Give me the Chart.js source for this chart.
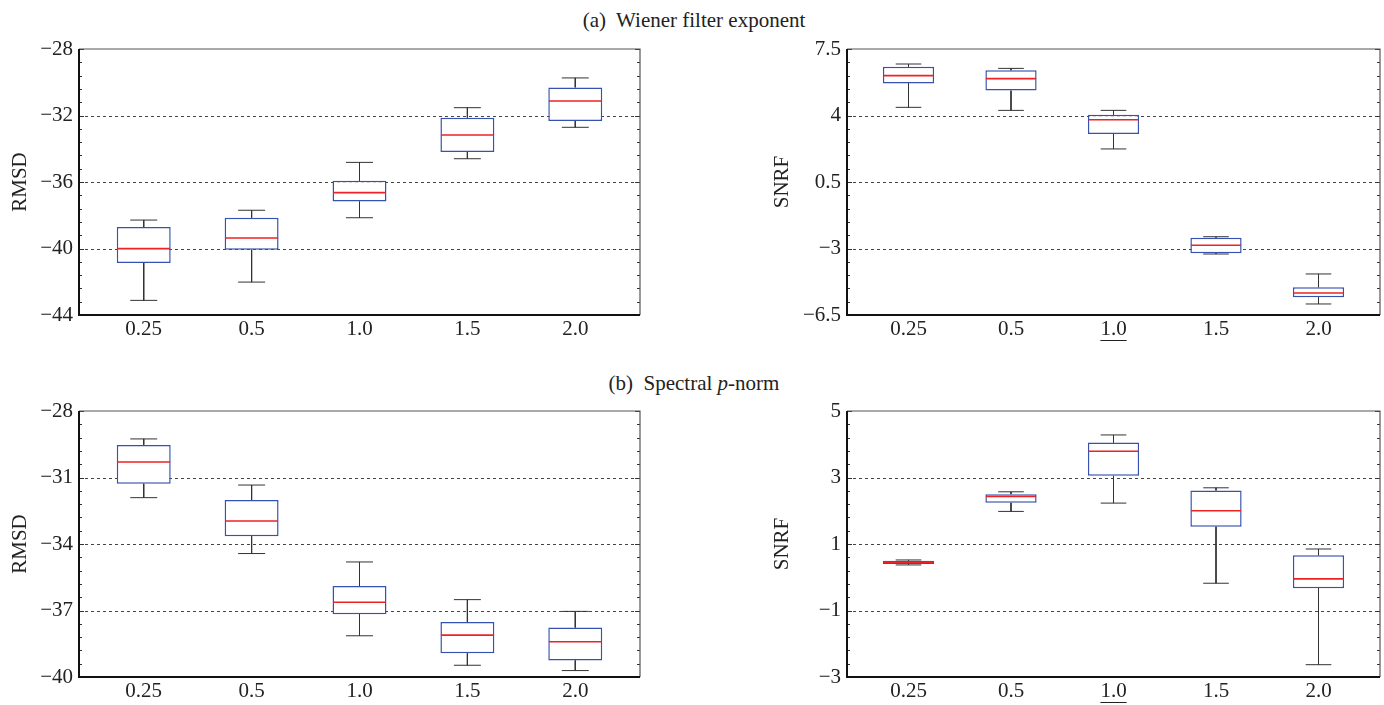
<!DOCTYPE html>
<html>
<head>
<meta charset="utf-8">
<script src="https://cdn.jsdelivr.net/npm/chart.js@4/dist/chart.umd.min.js"></script>
<style>
  html, body { margin: 0; padding: 0; background: #fff; }
  body { width: 1384px; height: 705px; position: relative; overflow: hidden; font-family: "Liberation Serif", "Times New Roman", serif; color: #222; }
  .panel { position: absolute; }
  .heading { position: absolute; left: 0; width: 1388px; text-align: center; font-size: 21px; line-height: 24px; white-space: pre; }
</style>
</head>
<body>
<div class="heading" style="top:8px">(a)  Wiener filter exponent</div>
<div class="heading" style="top:371px">(b)  Spectral <i>p</i>-norm</div>
<div class="panel" style="left:0;top:30px;width:660px;height:320px"><canvas id="c1"></canvas></div>
<div class="panel" style="left:760px;top:30px;width:624px;height:320px"><canvas id="c2"></canvas></div>
<div class="panel" style="left:0;top:392px;width:660px;height:313px"><canvas id="c3"></canvas></div>
<div class="panel" style="left:760px;top:392px;width:624px;height:313px"><canvas id="c4"></canvas></div>
<script>
// ---------------- DATA ----------------
const categories = ['0.25', '0.5', '1.0', '1.5', '2.0'];

// (a) Wiener filter exponent - RMSD
const aRmsdMin = [-43.12, -42.02, -38.15, -34.60, -32.71];
const aRmsdQ1  = [-40.87, -40.07, -37.18, -34.20, -32.33];
const aRmsdMed = [-40.01, -39.37, -36.64, -33.17, -31.13];
const aRmsdQ3  = [-38.71, -38.15, -35.92, -32.13, -30.31];
const aRmsdMax = [-38.29, -37.70, -34.82, -31.53, -29.74];

// (a) Wiener filter exponent - SNRF
const aSnrfMin = [4.43, 4.27, 2.24, -3.29, -5.92];
const aSnrfQ1  = [5.69, 5.31, 3.03, -3.25, -5.57];
const aSnrfMed = [6.10, 5.94, 3.78, -2.83, -5.34];
const aSnrfQ3  = [6.57, 6.38, 4.04, -2.43, -5.04];
const aSnrfMax = [6.71, 6.48, 4.27, -2.38, -4.34];

// (b) Spectral p-norm - RMSD
const bRmsdMin = [-31.91, -34.43, -38.14, -39.47, -39.71];
const bRmsdQ1  = [-31.28, -33.65, -37.17, -38.93, -39.25];
const bRmsdMed = [-30.30, -32.96, -36.63, -38.11, -38.41];
const bRmsdQ3  = [-29.53, -32.02, -35.89, -37.52, -37.77];
const bRmsdMax = [-29.26, -31.34, -34.81, -36.51, -37.04];

// (b) Spectral p-norm - SNRF
const bSnrfMin = [0.37, 1.98, 2.23, -0.18, -2.63];
const bSnrfQ1  = [0.40, 2.24, 3.05, 1.52, -0.33];
const bSnrfMed = [0.45, 2.43, 3.79, 2.00, -0.05];
const bSnrfQ3  = [0.50, 2.50, 4.05, 2.61, 0.66];
const bSnrfMax = [0.52, 2.57, 4.28, 2.69, 0.85];

// y-axis tick values and labels
const yTicksARmsd = [-44, -40, -36, -32, -28];
const yLabelsARmsd = ['\u221244', '\u221240', '\u221236', '\u221232', '\u221228'];
const yTicksASnrf = [-6.5, -3, 0.5, 4, 7.5];
const yLabelsASnrf = ['\u22126.5', '\u22123', '0.5', '4', '7.5'];
const yTicksBRmsd = [-40, -37, -34, -31, -28];
const yLabelsBRmsd = ['\u221240', '\u221237', '\u221234', '\u221231', '\u221228'];
const yTicksBSnrf = [-3, -1, 1, 3, 5];
const yLabelsBSnrf = ['\u22123', '\u22121', '1', '3', '5'];

// ---------------- STYLE ----------------
const FONT = '"Liberation Serif", "Times New Roman", serif';
Chart.defaults.font.family = FONT;
Chart.defaults.color = '#222';
const BOX_COLOR = '#3552b0';
const MED_COLOR = '#ee2222';
const WHISK_COLOR = '#333';
const TICK_FONT_SIZE = 21;

const frameTicksPlugin = {
  id: 'frameTicks',
  beforeDatasetsDraw(chart) {
    const {ctx, chartArea: a, scales: {y}} = chart;
    const ticks = chart.options.plugins.frameTicks.ticks;
    ctx.save();
    ctx.strokeStyle = '#444';
    ctx.lineWidth = 1;
    ctx.setLineDash([3, 3]);
    for (let i = 1; i < ticks.length - 1; i++) {
      const py = Math.round(y.getPixelForValue(ticks[i])) + 0.5;
      ctx.beginPath(); ctx.moveTo(a.left, py); ctx.lineTo(a.right, py); ctx.stroke();
    }
    ctx.restore();
  },
  afterDraw(chart) {
    const {ctx, chartArea: a, scales: {x, y}} = chart;
    const o = chart.options.plugins.frameTicks;
    const ticks = o.ticks;
    ctx.save();
    ctx.strokeStyle = '#333';
    ctx.lineWidth = 1;
    for (let i = 0; i < ticks.length; i++) {
      const py = Math.round(y.getPixelForValue(ticks[i])) + 0.5;
      ctx.beginPath();
      ctx.moveTo(a.left, py); ctx.lineTo(a.left + 5, py);
      ctx.moveTo(a.right, py); ctx.lineTo(a.right - 5, py);
      ctx.stroke();
      if (i < ticks.length - 1) {
        const step = (ticks[i + 1] - ticks[i]) / 5;
        for (let k = 1; k < 5; k++) {
          const my = Math.round(y.getPixelForValue(ticks[i] + k * step)) + 0.5;
          ctx.beginPath();
          ctx.moveTo(a.left, my); ctx.lineTo(a.left + 3, my);
          ctx.moveTo(a.right, my); ctx.lineTo(a.right - 3, my);
          ctx.stroke();
        }
      }
    }
    ctx.strokeStyle = '#555';
    ctx.lineWidth = 1.2;
    ctx.beginPath();
    ctx.moveTo(a.left, a.top); ctx.lineTo(a.right, a.top); ctx.lineTo(a.right, a.bottom);
    ctx.stroke();
    ctx.strokeStyle = '#111';
    ctx.lineWidth = 2;
    ctx.beginPath();
    ctx.moveTo(a.left, a.top); ctx.lineTo(a.left, a.bottom); ctx.lineTo(a.right, a.bottom);
    ctx.stroke();
    if (o.underline != null) {
      const px = x.getPixelForValue(o.underline + 1);
      ctx.font = TICK_FONT_SIZE + 'px ' + FONT;
      const w = ctx.measureText(categories[o.underline]).width;
      const uy = a.bottom + 25.5;
      ctx.strokeStyle = '#222';
      ctx.lineWidth = 1;
      ctx.beginPath(); ctx.moveTo(px - w / 2, uy); ctx.lineTo(px + w / 2, uy); ctx.stroke();
    }
    ctx.restore();
  }
};

function unitPx(ctx, frac) {
  const xs = ctx.chart.scales.x;
  return Math.abs(xs.getPixelForValue(1 + frac) - xs.getPixelForValue(1));
}

function makeChart(id, cfg) {
  const {min, q1, med, q3, max, yTicks, yLabels, title, yWidth, xHeight, padRight, titlePad, underline} = cfg;
  const whiskers = [];
  categories.forEach((c, i) => {
    whiskers.push({x: i + 1, y: max[i]}, {x: i + 1, y: q3[i]}, {x: i + 1, y: null});
    whiskers.push({x: i + 1, y: q1[i]}, {x: i + 1, y: min[i]}, {x: i + 1, y: null});
  });
  const caps = [];
  categories.forEach((c, i) => { caps.push({x: i + 1, y: min[i]}, {x: i + 1, y: max[i]}); });
  new Chart(document.getElementById(id), {
    type: 'bar',
    data: {
      datasets: [
        {
          type: 'line', data: whiskers, borderColor: WHISK_COLOR, borderWidth: 1,
          pointRadius: 0, spanGaps: false, order: 4
        },
        {
          type: 'line', data: caps, showLine: false, pointStyle: 'line',
          pointRadius: (ctx) => unitPx(ctx, 0.125), pointBorderColor: WHISK_COLOR,
          pointBorderWidth: 1, order: 3
        },
        {
          type: 'bar', data: categories.map((c, i) => ({x: i + 1, y: [q1[i], q3[i]]})),
          backgroundColor: 'rgba(255,255,255,1)', borderColor: BOX_COLOR, borderWidth: 1.5,
          borderSkipped: false, barPercentage: 0.5, categoryPercentage: 1.0, order: 2
        },
        {
          type: 'line', data: categories.map((c, i) => ({x: i + 1, y: med[i]})), showLine: false,
          pointStyle: 'line', pointRadius: (ctx) => unitPx(ctx, 0.245), pointBorderColor: MED_COLOR,
          pointBorderWidth: 1.6, order: 1
        }
      ]
    },
    options: {
      responsive: true,
      maintainAspectRatio: false,
      animation: false,
      layout: {padding: {top: 19, right: padRight, left: 0, bottom: 0}},
      plugins: {
        legend: {display: false},
        tooltip: {enabled: false},
        frameTicks: {ticks: yTicks, underline: underline}
      },
      scales: {
        x: {
          type: 'linear', min: 0.4, max: 5.6, offset: false,
          grid: {display: false, drawTicks: false, offset: false},
          border: {display: false},
          afterBuildTicks: (s) => { s.ticks = categories.map((c, i) => ({value: i + 1})); },
          afterFit: (s) => { s.height = xHeight; },
          ticks: {
            autoSkip: false, maxRotation: 0, padding: 2,
            font: {size: TICK_FONT_SIZE},
            callback: (v) => categories[Math.round(v) - 1]
          }
        },
        y: {
          type: 'linear', min: yTicks[0], max: yTicks[yTicks.length - 1],
          grid: {display: false, drawTicks: false},
          border: {display: false},
          afterBuildTicks: (s) => { s.ticks = yTicks.map(v => ({value: v})); },
          afterFit: (s) => { s.width = yWidth; },
          ticks: {
            autoSkip: false, padding: 6, font: {size: TICK_FONT_SIZE},
            callback: (v) => yLabels[yTicks.indexOf(v)]
          },
          title: {display: true, text: title, font: {size: 21}, padding: {top: titlePad, bottom: 0}}
        }
      }
    },
    plugins: [frameTicksPlugin]
  });
}

makeChart('c1', {min: aRmsdMin, q1: aRmsdQ1, med: aRmsdMed, q3: aRmsdQ3, max: aRmsdMax,
  yTicks: yTicksARmsd, yLabels: yLabelsARmsd, title: 'RMSD', yWidth: 79, xHeight: 35, padRight: 20, titlePad: 8, underline: null});
makeChart('c2', {min: aSnrfMin, q1: aSnrfQ1, med: aSnrfMed, q3: aSnrfQ3, max: aSnrfMax,
  yTicks: yTicksASnrf, yLabels: yLabelsASnrf, title: 'SNRF', yWidth: 87, xHeight: 35, padRight: 4, titlePad: 10, underline: 2});
makeChart('c3', {min: bRmsdMin, q1: bRmsdQ1, med: bRmsdMed, q3: bRmsdQ3, max: bRmsdMax,
  yTicks: yTicksBRmsd, yLabels: yLabelsBRmsd, title: 'RMSD', yWidth: 79, xHeight: 28, padRight: 20, titlePad: 8, underline: null});
makeChart('c4', {min: bSnrfMin, q1: bSnrfQ1, med: bSnrfMed, q3: bSnrfQ3, max: bSnrfMax,
  yTicks: yTicksBSnrf, yLabels: yLabelsBSnrf, title: 'SNRF', yWidth: 87, xHeight: 28, padRight: 4, titlePad: 10, underline: 2});
</script>
</body>
</html>
